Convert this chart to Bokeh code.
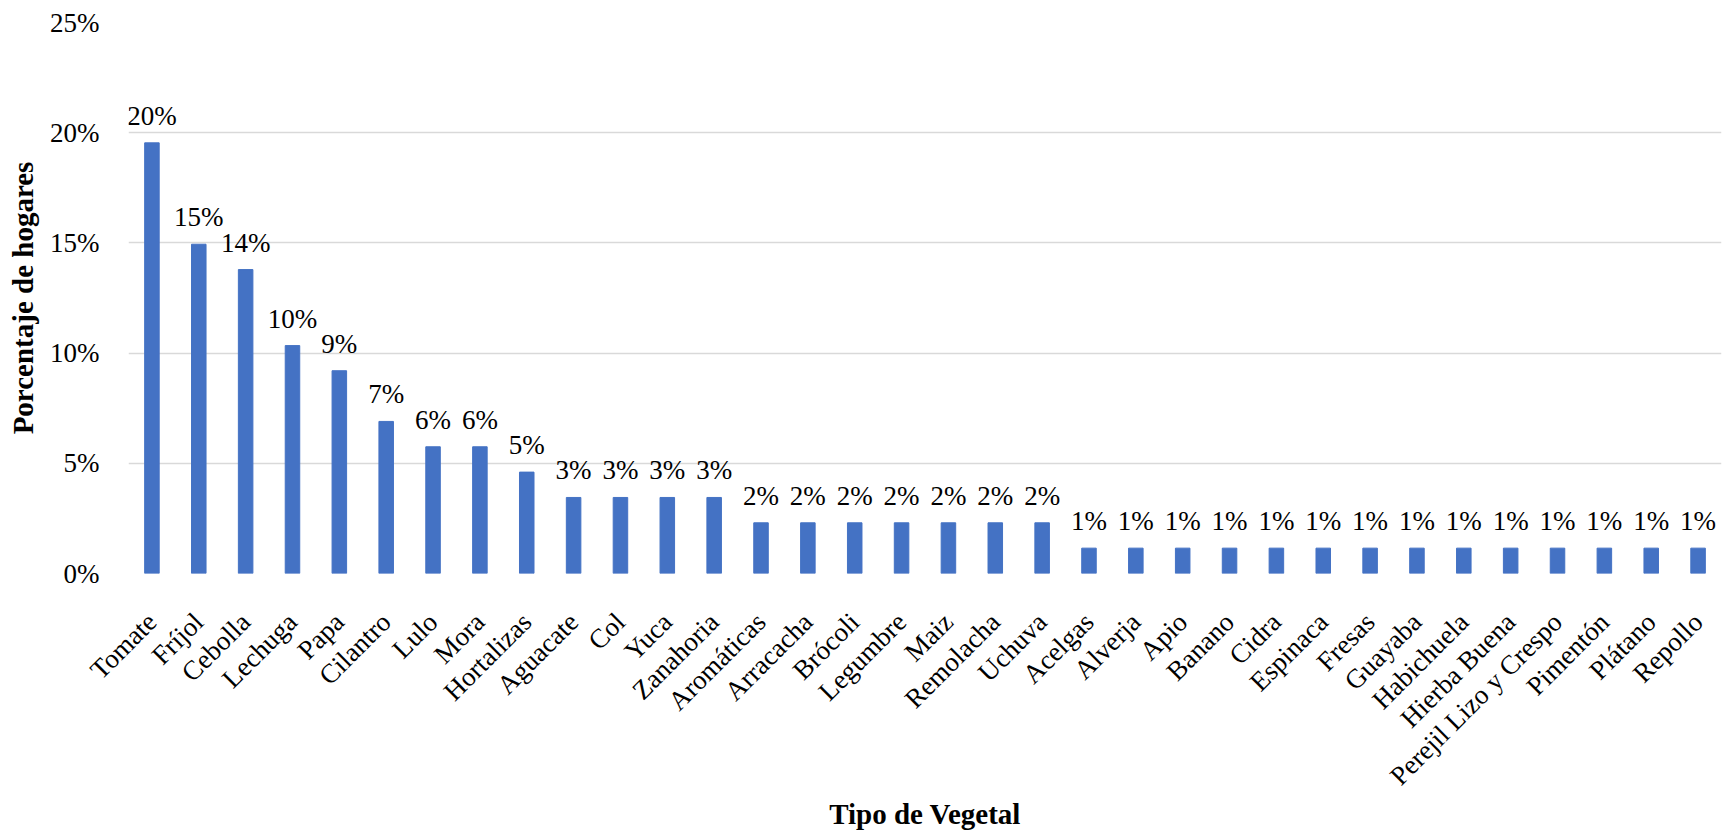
import math
from bokeh.plotting import figure
from bokeh.models import ColumnDataSource, LabelSet, FixedTicker, PrintfTickFormatter
from bokeh.core.properties import value
from bokeh.embed import file_html
from bokeh.resources import INLINE

categories = ["Tomate", "Fríjol", "Cebolla", "Lechuga", "Papa", "Cilantro", "Lulo", "Mora",
              "Hortalizas", "Aguacate", "Col", "Yuca", "Zanahoria", "Aromáticas", "Arracacha",
              "Brócoli", "Legumbre", "Maiz", "Remolacha", "Uchuva", "Acelgas", "Alverja", "Apio",
              "Banano", "Cidra", "Espinaca", "Fresas", "Guayaba", "Habichuela", "Hierba Buena",
              "Perejil Lizo y Crespo", "Pimentón", "Plátano", "Repollo"]
values = [19.54, 14.94, 13.79, 10.34, 9.20, 6.90, 5.75, 5.75,
          4.60, 3.45, 3.45, 3.45, 3.45, 2.30, 2.30,
          2.30, 2.30, 2.30, 2.30, 2.30, 1.15, 1.15, 1.15,
          1.15, 1.15, 1.15, 1.15, 1.15, 1.15, 1.15,
          1.15, 1.15, 1.15, 1.15]
labels = ["20%", "15%", "14%", "10%", "9%", "7%", "6%", "6%",
          "5%", "3%", "3%", "3%", "3%", "2%", "2%",
          "2%", "2%", "2%", "2%", "2%", "1%", "1%", "1%",
          "1%", "1%", "1%", "1%", "1%", "1%", "1%",
          "1%", "1%", "1%", "1%"]
y_ticks = [0, 5, 10, 15, 20, 25]
x_title = "Tipo de Vegetal"
y_title = "Porcentaje de hogares"

FONT = "Liberation Serif"
BLUE = "#4472C4"
GRID = "#D9D9D9"

src = ColumnDataSource(dict(cat=categories, val=values, lab=labels))

p = figure(x_range=categories, y_range=(0, 25), width=1735, height=833,
           output_backend="svg", toolbar_location=None,
           min_border_left=128, min_border_right=14, min_border_top=22, min_border_bottom=260)

p.vbar(x="cat", top="val", width=0.31, source=src, fill_color=BLUE, line_color=BLUE)

p.add_layout(LabelSet(x="cat", y="val", text="lab", source=src, y_offset=18,
                      text_align="center", text_baseline="alphabetic",
                      text_font=value(FONT), text_font_size="27px", text_color="black"))

p.outline_line_color = None
p.xgrid.grid_line_color = None
p.ygrid.grid_line_color = GRID
p.ygrid.grid_line_width = 1.3

p.yaxis.ticker = FixedTicker(ticks=y_ticks)
p.yaxis.formatter = PrintfTickFormatter(format="%d%%")
p.yaxis.axis_line_color = None
p.yaxis.major_tick_line_color = None
p.yaxis.minor_tick_line_color = None
p.yaxis.major_tick_out = 0
p.yaxis.major_label_standoff = 29
p.yaxis.major_label_text_font = FONT
p.yaxis.major_label_text_font_size = "27px"
p.yaxis.major_label_text_color = "black"
p.yaxis.axis_label = y_title
p.yaxis.axis_label_text_font = FONT
p.yaxis.axis_label_text_font_size = "29px"
p.yaxis.axis_label_text_font_style = "bold"
p.yaxis.axis_label_text_color = "black"
p.yaxis.axis_label_standoff = 8

p.xaxis.axis_line_color = None
p.xaxis.major_tick_line_color = None
p.xaxis.major_tick_out = 0
p.xaxis.major_label_orientation = math.pi / 4
p.xaxis.major_label_standoff = 44
p.xaxis.major_label_text_font = FONT
p.xaxis.major_label_text_font_size = "27px"
p.xaxis.major_label_text_color = "black"
p.xaxis.axis_label = x_title
p.xaxis.axis_label_text_font = FONT
p.xaxis.axis_label_text_font_size = "29px"
p.xaxis.axis_label_text_font_style = "bold"
p.xaxis.axis_label_text_color = "black"
p.xaxis.axis_label_standoff = -6

open("out.html", "w").write(file_html(p, INLINE))
